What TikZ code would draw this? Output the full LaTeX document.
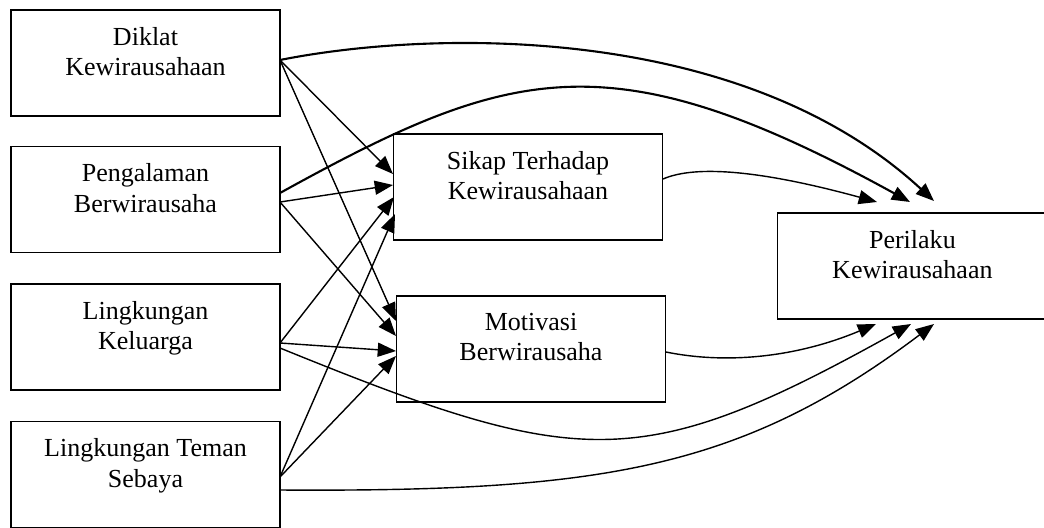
\documentclass[tikz,border=0pt]{standalone}
\usepackage{fontspec}
\setmainfont{Liberation Serif}
\usetikzlibrary{arrows.meta,positioning}
\pgfdeclarelayer{bg}
\pgfsetlayers{bg,main}
\tikzset{
    varbox/.style={rectangle, draw, line width=1.3pt, inner sep=0mm,
        minimum width=6.725cm, minimum height=2.65cm},
    vartext/.style={align=center, inner sep=0mm,
        font=\fontsize{18.5}{21.6}\selectfont}
}
\tikzset{
    link/.style={line width=1pt, -{Triangle[length=13pt,width=10pt]}},
    biglink/.style={link, line width=1.5pt}
}

\begin{document}
\begin{tikzpicture}[x=0.025cm, y=-0.025cm]
    \useasboundingbox (0,0) rectangle (1044,527);
    \clip (0,0) rectangle (1044,527);

    % boxes
    \node (diklat) at (145.5, 63) [varbox] {};
    \node (pengalaman) at (145.5, 199.5) [varbox] {};
    \node (keluarga) at (145.5, 337) [varbox] {};
    \node (teman) at (145.5, 474.5) [varbox] {};
    \node (sikap) at (528, 187) [varbox] {};
    \node (motivasi) at (531, 349) [varbox] {};
    \node (perilaku) at (914.5, 266) [varbox, minimum width=6.85cm] {};

    \node (diklat-t) [vartext, below=12.7pt of diklat.north] {Diklat\\Kewirausahaan};
    \node (pengalaman-t) [vartext, below=12.7pt of pengalaman.north] {Pengalaman\\Berwirausaha};
    \node (keluarga-t) [vartext, below=12.7pt of keluarga.north] {Lingkungan\\Keluarga};
    \node (teman-t) [vartext, below=12.7pt of teman.north] {Lingkungan Teman\\Sebaya};
    \node (sikap-t) [vartext, below=12.7pt of sikap.north] {Sikap Terhadap\\Kewirausahaan};
    \node (motivasi-t) [vartext, below=12.7pt of motivasi.north] {Motivasi\\Berwirausaha};
    \node (perilaku-t) [vartext, below=12.7pt of perilaku.north, xshift=-1.5pt] {Perilaku\\Kewirausahaan};

    % ends of the arrows
    \coordinate (dk-r) at (280, 60);
    \coordinate (pg-c) at (280, 193);
    \coordinate (pg-r) at (280, 202);
    \coordinate (kl-r) at (280, 343);
    \coordinate (kl-c) at (280, 348);
    \coordinate (tm-r) at (280, 477);
    \coordinate (tm-c) at (280, 490);
    \coordinate (sk-r) at (663, 179);
    \coordinate (mt-r) at (666, 352);

    \coordinate (sk-1) at (393, 174);
    \coordinate (sk-2) at (393, 185);
    \coordinate (sk-3) at (394, 197);
    \coordinate (sk-4) at (395, 214);
    \coordinate (mt-1) at (396, 321);
    \coordinate (mt-2) at (396, 336);
    \coordinate (mt-3) at (396, 351);
    \coordinate (mt-4) at (396, 356);

    \coordinate (pr-t1) at (877, 202);
    \coordinate (pr-t2) at (910, 202);
    \coordinate (pr-t3) at (934, 201);
    \coordinate (pr-b1) at (876, 324);
    \coordinate (pr-b2) at (911, 324);
    \coordinate (pr-b3) at (934, 324);

    \begin{pgfonlayer}{bg}
        \draw (dk-r) edge [link] (sk-1);
        \draw (dk-r) edge [link] (mt-1);
        \draw (pg-r) edge [link] (sk-2);
        \draw (pg-r) edge [link] (mt-2);
        \draw (kl-r) edge [link] (sk-3);
        \draw (kl-r) edge [link] (mt-3);
        \draw (tm-r) edge [link] (sk-4);
        \draw (tm-r) edge [link] (mt-4);

        \draw [biglink] (dk-r) .. controls (430, 30) and (740, 22) .. (pr-t3);
        \draw [biglink] (pg-c) .. controls (510, 66) and (610, 37) .. (pr-t2);
        \draw [link] (sk-r) .. controls (695, 165) and (760, 170) .. (pr-t1);

        \draw [link] (mt-r) .. controls (730, 365) and (800, 356) .. (pr-b1);
        \draw [link] (kl-c) .. controls (580, 470) and (640, 475) .. (pr-b2);
        \draw [link] (tm-c) .. controls (600, 492) and (740, 470) .. (pr-b3);
    \end{pgfonlayer}
\end{tikzpicture}
\end{document}
